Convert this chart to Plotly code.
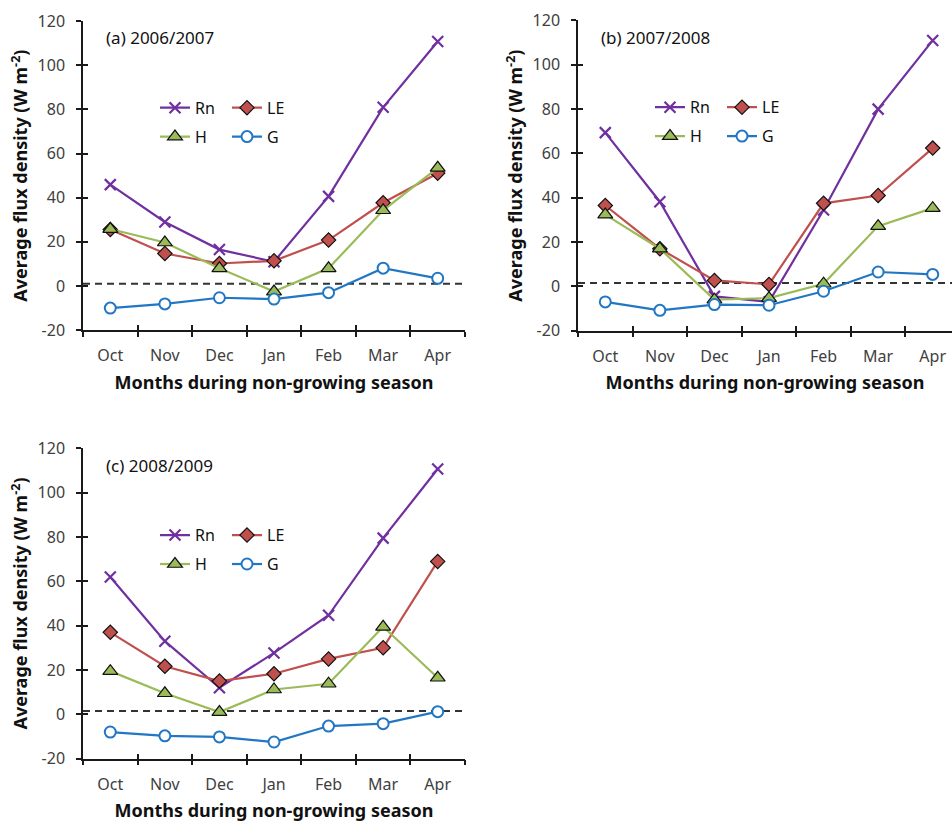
import plotly.graph_objects as go

months = ["Oct", "Nov", "Dec", "Jan", "Feb", "Mar", "Apr"]

# Panel (a) 2006/2007
rn_a = [45.9, 29.0, 16.5, 11.0, 40.6, 80.9, 110.7]
le_a = [25.6, 14.7, 10.2, 11.4, 20.8, 37.7, 51.1]
h_a = [25.8, 19.7, 8.0, -2.5, 8.0, 34.3, 53.5]
g_a = [-10.0, -8.1, -5.3, -5.9, -3.0, 8.1, 3.5]

# Panel (b) 2007/2008
rn_b = [69.4, 38.2, -4.5, -7.0, 34.5, 80.0, 111.0]
le_b = [36.5, 17.0, 2.7, 0.9, 37.5, 41.0, 62.4]
h_b = [32.4, 17.0, -6.0, -5.3, 1.2, 27.2, 35.3]
g_b = [-7.0, -10.8, -8.2, -8.5, -2.2, 6.5, 5.4]

# Panel (c) 2008/2009
rn_c = [62.0, 33.0, 12.0, 27.7, 44.7, 79.5, 110.7]
le_c = [37.0, 21.7, 15.0, 18.3, 25.0, 30.0, 69.0]
h_c = [19.5, 9.5, 1.0, 11.2, 13.8, 39.5, 16.5]
g_c = [-8.0, -9.7, -10.2, -12.5, -5.3, -4.2, 1.2]

panel_labels = ["(a) 2006/2007", "(b) 2007/2008", "(c) 2008/2009"]
ref_levels = [1.0, 1.5, 1.5]
y_ticks = [-20, 0, 20, 40, 60, 80, 100, 120]
y_tick_text = ["-20", "0", "20", "40", "60", "80", "100", "120"]

C_RN = "#7030A0"
C_LE = "#C0504D"
C_H = "#9BBB59"
C_G = "#2277C5"
FONT = "Noto Sans"
TICKC = "#404040"
AXC = "#1a1a1a"

W, H = 952, 825
# observed effective drawing band (top offset, height) for paper y fractions
TOP_OFF, EFF_H = 10.0, 805.0


def py(ypix):
    return 1 - (ypix - TOP_OFF) / EFF_H


# panel geometry in target pixels: (left, right, top, bottom)
geo = [(83, 465, 20, 330), (578, 952, 19.5, 330.5), (83, 465, 448.5, 759.5)]
x_right_val = [6.5, 6.5 - (960 - 952) / 54.6, 6.5]

fig = go.Figure()
panels = [(rn_a, le_a, h_a, g_a), (rn_b, le_b, h_b, g_b), (rn_c, le_c, h_c, g_c)]

for i, (rn, le, hh, gg) in enumerate(panels):
    xa = "x" if i == 0 else f"x{i+1}"
    ya = "y" if i == 0 else f"y{i+1}"
    leg1 = "legend" if i == 0 else f"legend{2*i+1}"
    leg2 = f"legend{2*i+2}"
    common = dict(x=months, xaxis=xa, yaxis=ya, mode="lines+markers")
    fig.add_trace(go.Scatter(y=rn, name="Rn", legend=leg1, line=dict(color=C_RN, width=2.2),
                             marker=dict(symbol="x-thin", size=11, line=dict(color=C_RN, width=2.2)), **common))
    fig.add_trace(go.Scatter(y=le, name="LE", legend=leg1, line=dict(color=C_LE, width=2.2),
                             marker=dict(symbol="diamond", size=11, color=C_LE, line=dict(color="#111", width=1.2)), **common))
    fig.add_trace(go.Scatter(y=hh, name="H", legend=leg2, line=dict(color=C_H, width=2.2),
                             marker=dict(symbol="triangle-up", size=13, color=C_H, line=dict(color="#111", width=1.2)), **common))
    fig.add_trace(go.Scatter(y=gg, name="G", legend=leg2, line=dict(color=C_G, width=2.2),
                             marker=dict(symbol="circle", size=11, color="white", line=dict(color=C_G, width=2)), **common))
    # empty trace for the inside-tick companion axes
    fig.add_trace(go.Scatter(x=[], y=[], xaxis=f"x{i+4}", yaxis=f"y{i+4}", showlegend=False, hoverinfo="skip"))

    l, r, t, b = geo[i]
    xd = [l / W, r / W]
    yd = [py(b), py(t)]
    xr = [-0.5, x_right_val[i]]
    sfx = "" if i == 0 else str(i + 1)
    fig.layout["xaxis" + sfx] = dict(
        domain=xd, anchor=ya, type="category", categoryarray=months, range=xr,
        tickson="boundaries", ticks="outside", ticklen=5, tickwidth=1.5, tickcolor=AXC,
        showline=True, linecolor=AXC, linewidth=1.5, showgrid=False, zeroline=False,
        showticklabels=False,
        title=dict(text="<b>Months during non-growing season</b>",
                   font=dict(family=FONT, size=18, color="#111"), standoff=45))
    fig.layout["yaxis" + sfx] = dict(
        domain=yd, anchor=xa, range=[-20, 120], tickvals=y_ticks,
        ticktext=[s + "\u2002" for s in y_tick_text],
        ticks="outside", ticklen=5, tickwidth=1.5, tickcolor=AXC,
        showline=True, linecolor=AXC, linewidth=1.5, showgrid=False, zeroline=False,
        tickfont=dict(family=FONT, size=16, color=TICKC),
        title=dict(text="<b>Average flux density (W m<sup>-2</sup>)</b>",
                   font=dict(family=FONT, size=18, color="#111"), standoff=5))
    fig.layout[f"xaxis{i+4}"] = dict(
        domain=xd, anchor=f"y{i+4}", type="category", categoryarray=months, range=xr,
        tickson="boundaries", ticks="inside", ticklen=5, tickwidth=1.5, tickcolor=AXC,
        showticklabels=True, ticklabelstandoff=14,
        tickfont=dict(family=FONT, size=16, color=TICKC),
        showline=False, showgrid=False, zeroline=False, fixedrange=True)
    fig.layout[f"yaxis{i+4}"] = dict(
        domain=yd, anchor=f"x{i+4}", range=[-20, 120], tickvals=y_ticks,
        ticks="inside", ticklen=5, tickwidth=1.5, tickcolor=AXC, showticklabels=False,
        showline=False, showgrid=False, zeroline=False, fixedrange=True)

    fig.add_shape(type="line", xref=f"{xa} domain", yref=ya, x0=0, x1=1,
                  y0=ref_levels[i], y1=ref_levels[i], line=dict(color="#333", width=2, dash="7px,5px"),
                  layer="below")
    fig.add_annotation(text=panel_labels[i], xref="paper", yref="paper",
                       x=(l + 21) / W, y=py(t + 17), xanchor="left", yanchor="middle",
                       showarrow=False, font=dict(family=FONT, size=17, color="#111"))

    lx = l + 72
    legbase = dict(orientation="h", xanchor="left", yanchor="middle", bgcolor="rgba(0,0,0,0)",
                   font=dict(family=FONT, size=16, color="#111"), entrywidth=27, itemwidth=30,
                   tracegroupgap=0, borderwidth=0)
    fig.layout[leg1] = dict(x=lx / W, y=py(t + 87), **legbase)
    fig.layout[leg2] = dict(x=lx / W, y=py(t + 116), **legbase)

fig.update_layout(width=W, height=H, margin=dict(l=0, r=0, t=0, b=0),
                  plot_bgcolor="rgba(0,0,0,0)", paper_bgcolor="white", showlegend=True)

fig.write_html("out.html")
